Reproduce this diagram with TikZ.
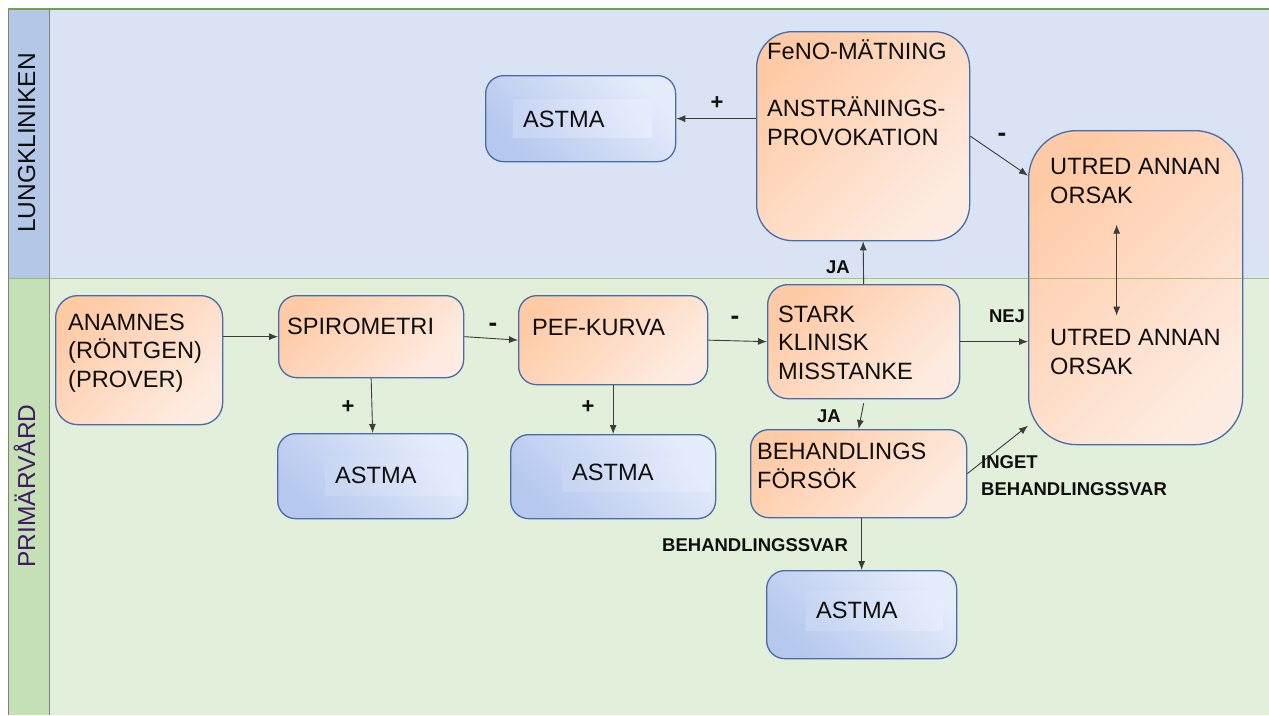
\documentclass[tikz,border=0pt]{standalone}
\usepackage{fontspec}
\setmainfont{Liberation Sans}
\usetikzlibrary{arrows.meta,calc}

% palette
\definecolor{laneAbody}{RGB}{218,227,243}
\definecolor{laneAhead}{RGB}{180,199,231}
\definecolor{laneBbody}{RGB}{226,239,218}
\definecolor{laneBhead}{RGB}{197,224,180}
\definecolor{laneline}{RGB}{112,160,80}
\definecolor{headline}{RGB}{128,128,128}
\definecolor{oDark}{RGB}{255,203,167}
\definecolor{oLight}{RGB}{254,236,226}
\definecolor{bDark}{RGB}{182,200,238}
\definecolor{bLight}{RGB}{229,236,251}
\definecolor{boxline}{RGB}{72,108,170}
\definecolor{arrowgray}{RGB}{60,60,60}
\definecolor{purpletxt}{RGB}{64,26,102}
\definecolor{darktxt}{RGB}{15,15,15}

\begin{document}
\begin{tikzpicture}[x=1pt,y=-1pt,
  box/.style={draw=boxline, line width=1.3pt, rounded corners=18pt, inner sep=0pt,
    anchor=north west},
  orangebox/.style={box, top color=oDark, bottom color=oLight, shading angle=45},
  bluebox/.style={box, top color=bLight, bottom color=bDark, shading angle=-45},
  txt/.style={anchor=base west, inner sep=0pt, align=left, text=darktxt,
    font=\fontsize{23.6}{28.5}\selectfont},
  lbl/.style={inner sep=0pt, text=darktxt, font=\fontsize{18.5}{27}\selectfont\bfseries},
  plus/.style={lbl, font=\fontsize{22}{22}\selectfont\bfseries},
  sign/.style={lbl, font=\fontsize{26}{26}\selectfont\bfseries},
  lanetxt/.style={rotate=90, anchor=base, inner sep=0pt,
    font=\fontsize{24.5}{28}\selectfont},
  tip/.tip={Latex[length=9pt,width=7pt]},
  arr/.style={draw=arrowgray, line width=0.9pt, -tip},
  darr/.style={draw=arrowgray, line width=0.9pt, tip-tip}
]
\useasboundingbox (0,0) rectangle (1269,715);

% swimlanes
\fill[laneAbody] (49,9) rectangle (1269,278);
\fill[laneBbody] (49,278) rectangle (1269,715);
\fill[laneAhead] (8,9) rectangle (49,278);
\fill[laneBhead] (8,278) rectangle (49,715);
\draw[headline, line width=1pt] (8,9) -- (8,715);
\draw[headline, line width=1pt] (49,9) -- (49,715);
\draw[laneline, line width=1.2pt] (8,9) -- (1269,9);
\node[lanetxt, text=darktxt] (laneA) at (35,143) {LUNGKLINIKEN};
\node[lanetxt, text=purpletxt] (laneB) at (35,486) {PRIMÄRVÅRD};

% process boxes
\node[orangebox, rounded corners=22pt, minimum width=167pt, minimum height=129pt] (anam) at (55,295) {};
\node[orangebox, minimum width=185pt, minimum height=82pt] (spiro) at (278,295) {};
\node[orangebox, minimum width=189pt, minimum height=89pt] (pef) at (518,295) {};
\node[orangebox, rounded corners=20pt, minimum width=192pt, minimum height=114pt] (stark) at (767,284) {};
\node[orangebox, minimum width=216pt, minimum height=88pt] (behand) at (750,429) {};
\node[orangebox, rounded corners=36pt, minimum width=213pt, minimum height=209pt] (feno) at (756,31) {};
\node[orangebox, rounded corners=48pt, minimum width=214pt, minimum height=314pt] (utred) at (1028,130) {};

% diagnosis boxes
\node[bluebox, minimum width=190pt, minimum height=86pt] (ast0) at (485,75) {};
\node[bluebox, minimum width=190pt, minimum height=85pt] (ast1) at (277,433) {};
\node[bluebox, minimum width=205pt, minimum height=84pt] (ast2) at (510,434) {};
\node[bluebox, minimum width=190pt, minimum height=88pt] (ast3) at (766,570) {};

% text panels behind the ASTMA captions
\shade[top color=bLight, bottom color=bDark!60!bLight, shading angle=-60] (513,99) rectangle (652,137);
\shade[top color=bLight, bottom color=bDark!60!bLight, shading angle=-60] (325,457) rectangle (463,495);
\shade[top color=bLight, bottom color=bDark!60!bLight, shading angle=-60] (562,457) rectangle (710,491);
\shade[top color=bLight, bottom color=bDark!60!bLight, shading angle=-60] (806,591) rectangle (943,630);

% lane divider runs across the tall box
\draw[laneline, line width=1pt, opacity=0.55] (8,278) -- (1269,278);

% box captions (multi-line nodes sit on the baseline of their last line)
\node[txt] (anamT) at (68,387) {ANAMNES\\(RÖNTGEN)\\(PROVER)};
\node[txt] (spiroT) at (287,334) {SPIROMETRI};
\node[txt] (pefT) at (532,335) {PEF-KURVA};
\node[txt] (starkT) at (778,379) {STARK\\KLINISK\\MISSTANKE};
\node[txt] (behandT) at (757,488) {BEHANDLINGS\\FÖRSÖK};
\node[txt] (fenoT) at (767,145) {FeNO-MÄTNING\\[28.5pt]ANSTRÄNINGS-\\PROVOKATION};
\node[txt] (utredT1) at (1050,203) {UTRED ANNAN\\ORSAK};
\node[txt] (utredT2) at (1050,374) {UTRED ANNAN\\ORSAK};
\node[txt] (ast0T) at (523,127) {ASTMA};
\node[txt] (ast1T) at (335,483) {ASTMA};
\node[txt] (ast2T) at (572,480) {ASTMA};
\node[txt] (ast3T) at (816,618) {ASTMA};

% connectors
\draw[arr] (anam.east |- spiro.west) -- (spiro.west);
\draw[arr] (spiro.east) -- (pef.west);
\draw[arr] (pef.east) -- (stark.west);
\draw[arr] (spiro.south) -- (ast1.north);
\draw[arr] (pef.south) -- (ast2.north);
\draw[arr] (stark.north) -- (feno.south);
\draw[arr] (stark.east) -- (stark.east -| utred.west);
\draw[arr] ([yshift=-4pt]stark.south) -- (behand.north);
\draw[arr] (behand.east) -- ([yshift=-138pt]utred.west);
\draw[arr] (ast3.north |- behand.south) -- (ast3.north);
\draw[arr] (feno.west |- ast0.east) -- (ast0.east);
\draw[arr] (feno.east) -- ([yshift=112pt]utred.west);
\coordinate (loopTop) at ([xshift=-19pt,yshift=63pt]utred.center);
\coordinate (loopBot) at ([xshift=-19pt,yshift=-28pt]utred.center);
\draw[darr] (loopTop) -- (loopBot);

% connector labels
\node[plus] (pl0) at (717,103) {+};
\node[sign] (mi0) at (1002,137) {-};
\node[sign] (mi1) at (493,327) {-};
\node[sign] (mi2) at (735,320) {-};
\node[plus] (pl1) at (348,407) {+};
\node[plus] (pl2) at (588,407) {+};
\node[lbl] (ja1) at (838,267) {JA};
\node[lbl] (nej) at (1007,316) {NEJ};
\node[lbl] (ja2) at (829,416) {JA};
\node[lbl, anchor=base west, align=left] (inget) at (981,495) {INGET\\BEHANDLINGSSVAR};
\node[lbl, anchor=base west] (svar) at (662,551) {BEHANDLINGSSVAR};
\end{tikzpicture}
\end{document}
